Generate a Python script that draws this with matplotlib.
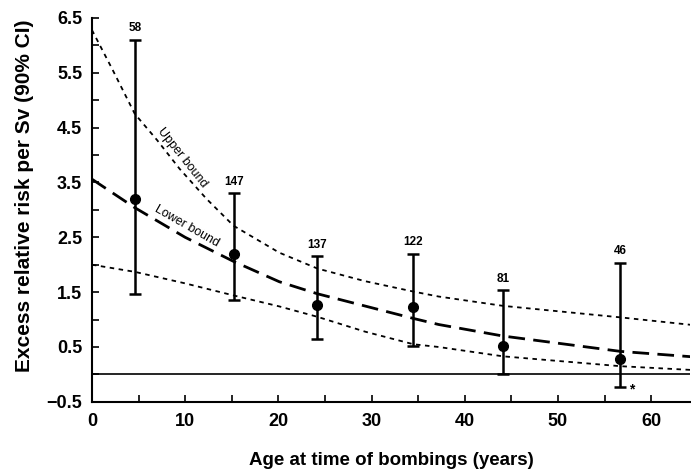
import matplotlib
matplotlib.use("Agg")
import matplotlib.pyplot as plt
from matplotlib.ticker import MultipleLocator

plt.rcParams['font.family'] = ['Liberation Sans', 'DejaVu Sans']

# age groups: mean age, ERR/Sv estimate, 90% CI and number of cases
ages = [4.6, 15.2, 24.2, 34.5, 44.1, 56.7]
err = [3.19, 2.19, 1.27, 1.22, 0.52, 0.28]
ci_hi = [6.10, 3.30, 2.15, 2.20, 1.53, 2.04]
ci_lo = [1.47, 1.36, 0.65, 0.52, 0.0, -0.23]
cases = ["58", "147", "137", "122", "81", "46"]

# curves
up_age = [0, 2.2, 4.6, 7.0, 9.4, 12.3, 15.2, 20.1, 24.2, 29.3, 34.5, 37.2, 44.1, 56.7, 64.5]
up_val = [6.28, 5.56, 4.75, 4.27, 3.75, 3.2, 2.71, 2.22, 1.93, 1.7, 1.51, 1.42, 1.25, 1.04, 0.9]
fit_age = [0, 4.6, 10, 15.2, 20.1, 24.2, 34.5, 37.2, 44.1, 56.7, 64.5]
fit_val = [3.56, 3.04, 2.5, 2.06, 1.69, 1.47, 1.02, 0.91, 0.7, 0.42, 0.32]
lo_age = [0, 4.6, 10, 15.2, 20.1, 24.2, 29.3, 34.5, 37.2, 44.1, 56.7, 64.5]
lo_val = [2.0, 1.87, 1.66, 1.44, 1.24, 1.05, 0.78, 0.55, 0.5, 0.33, 0.15, 0.08]

fig = plt.figure(figsize=(6.91, 4.70), dpi=100)
ax = fig.add_axes([0.133, 0.145, 0.866, 0.817])

ax.plot(up_age, up_val, color='black', lw=1.3, dashes=(2.5, 2.5))
ax.plot(lo_age, lo_val, color='black', lw=1.3, dashes=(2.5, 2.5))
ax.plot(fit_age, fit_val, color='black', lw=2.0, dashes=(6, 3))
ax.axhline(0, color='black', lw=1.2)

yerr = [[e - l for e, l in zip(err, ci_lo)], [h - e for e, h in zip(err, ci_hi)]]
ax.errorbar(ages, err, yerr=yerr, fmt='o', color='black', ms=7,
            elinewidth=1.8, capsize=4, capthick=1.8)

for a, h, n in zip(ages, ci_hi, cases):
    ax.annotate(n, (a, h), xytext=(0, 4), textcoords='offset points',
                ha='center', va='bottom', fontsize=8.5, fontweight='bold')

ax.text(9.7, 3.96, "Upper bound", rotation=-51.6, ha='center', va='center', fontsize=9)
ax.text(10.2, 2.70, "Lower bound", rotation=-29.7, ha='center', va='center', fontsize=9)
ax.text(57.9, -0.27, "*", ha='center', va='center', fontsize=10, fontweight='bold')

ax.set_xlim(0, 64.2)
ax.set_ylim(-0.5, 6.5)
ax.xaxis.set_major_locator(MultipleLocator(10))
ax.xaxis.set_minor_locator(MultipleLocator(5))
ax.set_yticks([-0.5, 0.5, 1.5, 2.5, 3.5, 4.5, 5.5, 6.5])
ax.yaxis.set_minor_locator(MultipleLocator(0.5))
ax.tick_params(which='both', direction='in', width=1.2, length=5)
ax.tick_params(axis='both', labelsize=13)
ax.tick_params(axis='x', pad=8)
ax.tick_params(axis='y', pad=7)
for lab in ax.get_xticklabels() + ax.get_yticklabels():
    lab.set_fontweight('bold')

ax.spines['top'].set_visible(False)
ax.spines['right'].set_visible(False)
ax.spines['left'].set_linewidth(1.5)
ax.spines['bottom'].set_linewidth(1.5)

ax.set_xlabel("Age at time of bombings (years)", fontsize=13.5, fontweight='bold', labelpad=16)
ax.set_ylabel("Excess relative risk per Sv (90% CI)", fontsize=15, fontweight='bold')
ax.yaxis.set_label_coords(-0.097, 0.538)

fig.savefig("out.png", dpi=100)
